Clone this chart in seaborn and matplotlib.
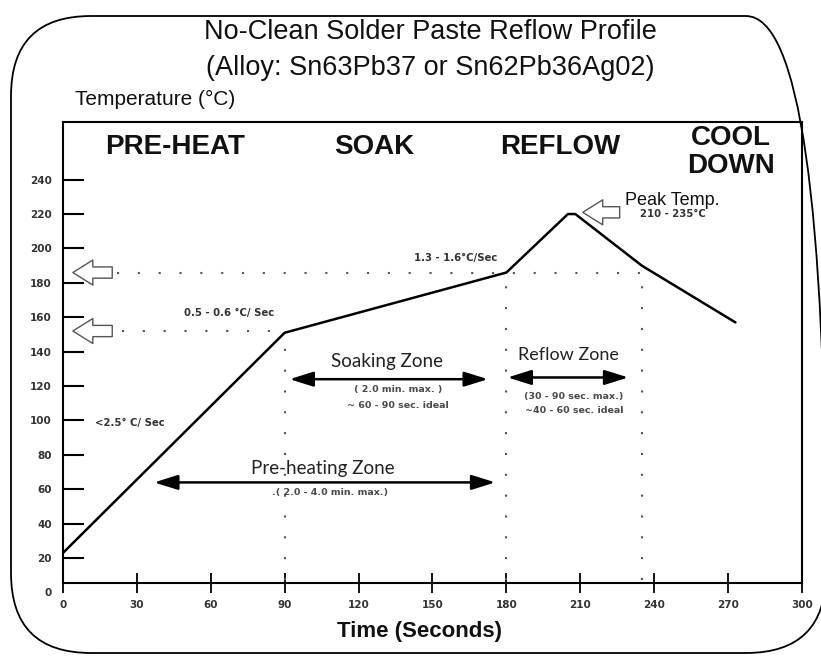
import matplotlib
matplotlib.use("Agg")
import matplotlib.pyplot as plt
import seaborn as sns
from matplotlib.patches import FancyBboxPatch

# reflow profile (time in s, temperature in degC)
time_s = [0, 90, 180, 205, 208, 235, 273]
temp_c = [23, 151, 186, 220, 220, 190, 157]

x_ticks = [0, 30, 60, 90, 120, 150, 180, 210, 240, 270, 300]
y_ticks = [0, 20, 40, 60, 80, 100, 120, 140, 160, 180, 200, 220, 240]

phases = ["PRE-HEAT", "SOAK", "REFLOW", "COOL\nDOWN"]
phase_x = [45.5, 126.5, 202, 271]
phase_y = [259, 259, 259, 256]

# zone boundaries (vertical dotted lines) and limit levels (horizontal dotted)
zone_t = [90, 180, 235]
zone_top = [152, 186, 186]
limit_temp = [152, 186]
limit_end = [90, 235]

sns.set_theme(style="white")
plt.rcParams["font.family"] = ["Liberation Sans", "DejaVu Sans"]

fig = plt.figure(figsize=(8.21, 6.56), dpi=100)

# background axes in pixel units for the rounded frame
bg = fig.add_axes([0, 0, 1, 1], zorder=-1)
bg.set_xlim(0, 821)
bg.set_ylim(0, 656)
bg.axis("off")
frame = FancyBboxPatch((11, 3), 815, 637, boxstyle="round,pad=0,rounding_size=80",
                       fc="none", ec="black", lw=1.3, clip_on=False)
bg.add_patch(frame)

ax = fig.add_axes([0.0767, 0.0968, 0.9001, 0.7172])
ax.patch.set_alpha(0)

sns.lineplot(x=time_s, y=temp_c, sort=False, estimator=None,
             color="black", lw=1.8, ax=ax)

ax.set_xlim(0, 300)
ax.set_ylim(0, 273.5)
ax.spines["bottom"].set_position(("data", 5.5))
ax.spines["left"].set_bounds(5.5, 273.5)
ax.spines["right"].set_bounds(5.5, 273.5)
for s in ax.spines.values():
    s.set_color("black")
    s.set_linewidth(1.5)

ax.set_xticks(x_ticks)
ax.set_yticks(y_ticks)
ax.tick_params(axis="x", bottom=True, direction="inout", length=14, width=1.3,
               pad=5, labelsize=7.5, labelcolor="#333333", colors="black")
ax.tick_params(axis="y", left=True, direction="in", length=15, width=1.5,
               pad=8, labelsize=7.5, labelcolor="#333333", colors="black")
for lbl in ax.get_xticklabels() + ax.get_yticklabels():
    lbl.set_fontweight("bold")
    lbl.set_family("DejaVu Sans")
ax.yaxis.get_major_ticks()[0].tick1line.set_visible(False)

ax.set_xlabel("Time (Seconds)", fontsize=16, fontweight="bold", x=0.482,
              labelpad=8, color="#111111")
ax.set_ylabel("")

# dotted guide lines
dots = dict(ls=(0, (1, 9)), color="#555555", lw=1.5)
for t, top in zip(zone_t, zone_top):
    ax.plot([t, t], [7, top], **dots)
ax.plot([24, limit_end[0]], [limit_temp[0], limit_temp[0]], **dots)
ax.plot([22, limit_end[1]], [limit_temp[1], limit_temp[1]], **dots)

# hollow pointer arrows
hollow = dict(arrowstyle="simple,head_length=0.8,head_width=1.0,tail_width=0.45",
              fc="white", ec="#555555", lw=1.0, shrinkA=0, shrinkB=0,
              mutation_scale=18)
for lvl in limit_temp:
    ax.annotate("", xy=(4, lvl), xytext=(20, lvl), arrowprops=hollow)
ax.annotate("", xy=(211, 221), xytext=(226, 221), arrowprops=hollow)

# double headed zone arrows
dbl = dict(arrowstyle="<|-|>,head_length=0.8,head_width=0.25", color="black",
           lw=1.8, shrinkA=0, shrinkB=0, mutation_scale=18)
ax.annotate("", xy=(37, 64), xytext=(175.5, 64), arrowprops=dbl)
ax.annotate("", xy=(92, 124), xytext=(172.5, 124), arrowprops=dbl)
ax.annotate("", xy=(180.5, 125), xytext=(229.5, 125), arrowprops=dbl)

zone_font = ["Lato", "DejaVu Sans"]
sub = dict(ha="center", va="center", fontsize=6.8, fontweight="bold",
           family="DejaVu Sans", color="#4a4a4a")
ax.text(105.5, 72, "Pre-heating Zone", ha="center", va="center", fontsize=13.5,
        family=zone_font, color="#222222")
ax.text(108.5, 58, ".( 2.0 - 4.0 min. max.)", **sub)
ax.text(131.5, 134, "Soaking Zone", ha="center", va="center", fontsize=13.5,
        family=zone_font, color="#222222")
ax.text(136, 118, "( 2.0 min. max. )", **sub)
ax.text(136, 108.5, "~ 60 - 90 sec. ideal", **sub)
ax.text(205, 138, "Reflow Zone", ha="center", va="center", fontsize=13,
        family=zone_font, color="#222222")
ax.text(207.5, 114, "(30 - 90 sec. max.)", **sub)
ax.text(207.5, 106, "~40 - 60 sec. ideal", **sub)

# slope notes
note = dict(ha="center", va="center", fontsize=7.3, fontweight="bold",
            family="DejaVu Sans", color="#333333")
ax.text(13, 98.5, "<2.5° C/ Sec", ha="left", va="center", fontsize=7.3,
        fontweight="bold", family="DejaVu Sans", color="#333333")
ax.text(67.5, 162.5, "0.5 - 0.6 °C/ Sec", **note)
ax.text(159.5, 194.5, "1.3 - 1.6°C/Sec", **note)
ax.text(247.5, 228, "Peak Temp.", ha="center", va="center", fontsize=13,
        color="#111111")
ax.text(247.5, 220, "210 - 235°C", **note)

for name, px, py in zip(phases, phase_x, phase_y):
    ax.text(px, py, name, ha="center", va="center", fontsize=20,
            fontweight="bold", linespacing=1.12, color="#111111")

fig.text(0.524, 0.951, "No-Clean Solder Paste Reflow Profile", ha="center",
         va="center", fontsize=19.5, color="#111111")
fig.text(0.524, 0.897, "(Alloy: Sn63Pb37 or Sn62Pb36Ag02)", ha="center",
         va="center", fontsize=19.5, color="#111111")
fig.text(0.091, 0.848, "Temperature (°C)", ha="left", va="center",
         fontsize=15, color="#111111")

fig.savefig("out.png", dpi=100)
